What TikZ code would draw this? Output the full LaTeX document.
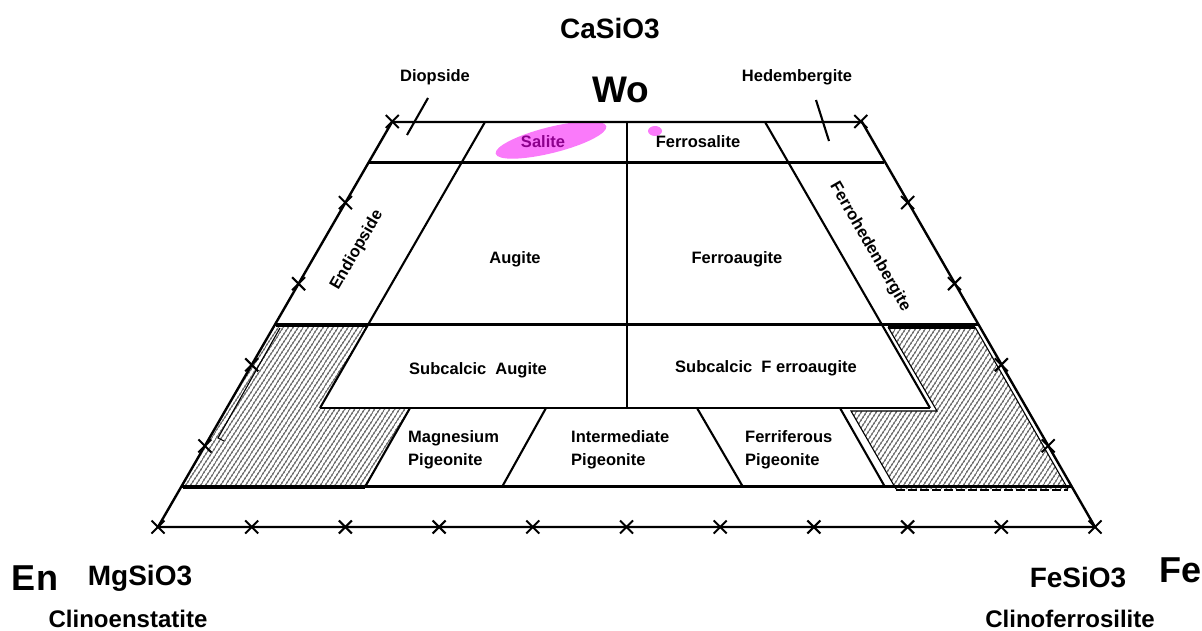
\documentclass[tikz,border=0pt]{standalone}
\usepackage{fontspec}
\setmainfont{Liberation Sans}
\usetikzlibrary{patterns.meta}
\definecolor{blob}{RGB}{250,122,250}
\definecolor{salt}{RGB}{140,0,140}
\begin{document}
\begin{tikzpicture}[x=1pt,y=-1pt,
  edge/.style={line width=2.4pt},
  rl/.style={line width=2.1pt},
  thin2/.style={line width=1.1pt},
  hatch/.style={pattern={Lines[angle=57,distance=4pt,line width=1.2pt]},pattern color=black!85},
  lbl/.style={font=\fontsize{16.5}{20}\selectfont\bfseries,inner sep=0pt},
  lbl2/.style={font=\fontsize{16.5}{23}\selectfont\bfseries,inner sep=0pt,align=left,anchor=west},
  mid/.style={font=\fontsize{28}{32}\selectfont\bfseries,inner sep=0pt},
  sub/.style={font=\fontsize{24}{28}\selectfont\bfseries,inner sep=0pt},
  end/.style={font=\fontsize{36}{40}\selectfont\bfseries,inner sep=0pt},
  xtick/.pic={\draw[line width=2pt] (-6.5,-6.5)--(6.5,6.5) (-6.5,6.5)--(6.5,-6.5);}]
\useasboundingbox (0,0) rectangle (1202,631);
% corners
\coordinate (En) at (158,527);
\coordinate (Fe) at (1095,527);
\coordinate (TL) at (392,122);
\coordinate (TR) at (862,122);
% hatched fields
\fill[hatch] (276,325) -- (368,325) -- (320,408) -- (410,408) -- (365,487) -- (183,487) -- cycle;
\fill[hatch] (888,327) -- (975,327) -- (1068,489) -- (896,489) -- (851,411) -- (937,411) -- cycle;
% pink data
\fill[blob, rotate around={14:(551,140)}] (551,140) ellipse [x radius=57pt, y radius=13pt];
\fill[blob] (655,131) ellipse [x radius=7pt, y radius=5pt];
% outer trapezoid
\draw[edge] (En) -- (Fe) -- (TR) -- (TL) -- cycle;
% ticks
\foreach \k in {0,...,10} \pic at ({158+93.7*\k},527) {xtick};
\foreach \k in {1,...,5} {
  \pic at ({158+46.85*\k},{527-81.1*\k}) {xtick};
  \pic at ({1095-46.85*\k},{527-81.1*\k}) {xtick};
}
% field boundaries
\draw[rl] (368.8,162.5) -- (884.2,162.5);
\draw[rl] (275.1,324.5) -- (977.9,324.5);
\draw[rl] (320,408) -- (930,408);
\draw[rl] (181.4,486.5) -- (1071.6,486.5);
\draw[rl] (627,122) -- (627,408);
\draw[rl] (485,122) -- (320,408);
\draw[rl] (765,122) -- (930,408);
\draw[rl] (410,408) -- (365,487);
\draw[rl] (546,408) -- (502,487);
\draw[rl] (697,408) -- (743,487);
\draw[rl] (840,408) -- (885,487);
% hatch borders
\draw[line width=3pt] (276,325) -- (368,325);
\draw[line width=3pt] (183,487) -- (365,487);
\draw[thin2] (280,328) -- (218,438) -- (224,441);
\draw[line width=3pt] (888,327) -- (975,327);
\draw[thin2] (888,327) -- (937,411) -- (851,411) -- (896,489);
\draw[thin2] (975,327) -- (1068,489);
\draw[line width=2pt, dash pattern=on 9pt off 3pt] (896,489.5) -- (1068,489.5);
% pointers
\draw[rl] (428,98) -- (407,135);
\draw[rl] (816,100) -- (829,141);
% labels
\node[mid] (casio) at (610,29) {CaSiO3};
\node[end,font=\fontsize{37}{40}\selectfont\bfseries] (wo) at (621,90) {Wo};
\node[lbl] (diop) at (435,77) {Diopside};
\node[lbl] (hed) at (797,77) {Hedembergite};
\node[lbl,text=salt] (sal) at (543,142) {Salite};
\node[lbl] (fsal) at (698,142) {Ferrosalite};
\node[lbl,rotate=60] (endi) at (357,250) {Endiopside};
\node[lbl] (aug) at (515,259) {Augite};
\node[lbl] (faug) at (737,259) {Ferroaugite};
\node[lbl,rotate=-60] (fhed) at (870,247) {Ferrohedenbergite};
\node[lbl] (saug) at (478,370) {Subcalcic\ \ Augite};
\node[lbl] (sfaug) at (766,368) {Subcalcic\ \ F erroaugite};
\node[lbl2] (mgp) at (408,450) {Magnesium\\Pigeonite};
\node[lbl2] (inp) at (571,450) {Intermediate\\Pigeonite};
\node[lbl2] (fep) at (745,450) {Ferriferous\\Pigeonite};
\node[end] (en) at (35,578) {En};
\node[mid] (mgs) at (140,578) {MgSiO3};
\node[mid] (fes) at (1078,578) {FeSiO3};
\node[end] (fe) at (1180,570) {Fe};
\node[sub] (cen) at (128,619) {Clinoenstatite};
\node[sub] (cfs) at (1070,619) {Clinoferrosilite};
\end{tikzpicture}
\end{document}
